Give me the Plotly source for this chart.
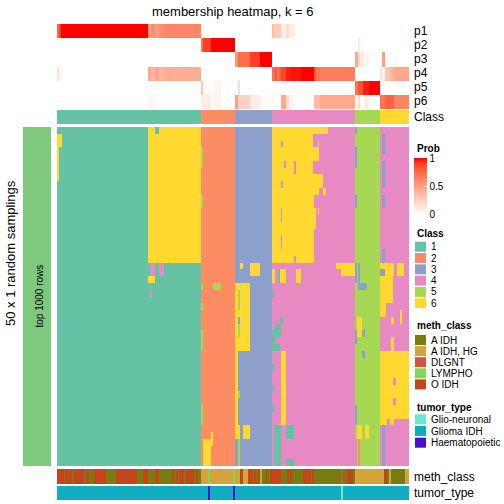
import numpy as np
import plotly.graph_objects as go

# ---------------- data ----------------
N_SAMPLES = 352
N_SAMPLINGS = 50
prob_rows = ["p1", "p2", "p3", "p4", "p5", "p6"]
class_labels = ["1", "2", "3", "4", "5", "6"]
class_colors = ["#66C2A5", "#FC8D62", "#8DA0CB", "#E78AC3", "#A6D854", "#FFD92F"]
# consensus class segments: sample boundaries and class id
class_bounds = [0, 144, 178, 215, 298, 323, 352]
class_ids = [1, 2, 3, 4, 5, 6]

# membership probabilities per row: (start, end, prob)
p1_segs = [(0, 2, 0.75), (2, 4, 0.9), (4, 91, 1.0), (91, 94, 0.5), (94, 98, 0.58), (98, 102, 0.5),
           (102, 107, 0.58), (107, 144, 0.62), (215, 217, 0.35), (217, 224, 0.28), (224, 229, 0.08),
           (229, 232, 0.18), (232, 237, 0.1), (237, 239, 0.05)]
p2_segs = [(144, 146, 0.7), (146, 154, 0.9), (154, 178, 1.0), (301, 303, 0.12)]
p3_segs = [(178, 181, 0.55), (181, 193, 0.72), (193, 203, 0.9), (203, 215, 1.0), (298, 301, 0.45),
           (301, 303, 0.2), (303, 307, 0.1), (307, 312, 0.05), (325, 328, 0.5)]
p4_segs = [(0, 2, 0.15), (2, 5, 0.05), (91, 94, 0.45), (94, 98, 0.38), (98, 102, 0.45), (102, 107, 0.38),
           (107, 144, 0.42), (215, 218, 0.72), (218, 220, 0.82), (220, 222, 0.68), (222, 224, 0.78),
           (224, 229, 0.88), (229, 233, 0.95), (233, 244, 0.97), (244, 257, 1.0), (257, 259, 0.8),
           (259, 263, 0.7), (263, 298, 0.65), (323, 325, 0.15), (325, 328, 0.05), (328, 333, 0.3),
           (333, 337, 0.38), (337, 352, 0.45)]
p5_segs = [(144, 146, 0.3), (146, 154, 0.03), (156, 164, 0.05), (181, 183, 0.2), (298, 301, 0.7),
           (301, 306, 0.82), (306, 312, 0.95), (312, 323, 1.0)]
p6_segs = [(91, 98, 0.05), (144, 154, 0.1), (156, 164, 0.05), (178, 181, 0.5), (181, 193, 0.25),
           (193, 203, 0.1), (203, 215, 0.03), (215, 217, 0.05), (224, 229, 0.45), (229, 232, 0.2),
           (232, 237, 0.05), (257, 263, 0.35), (263, 298, 0.45), (298, 301, 0.05), (301, 303, 0.2),
           (307, 312, 0.1), (323, 328, 0.7), (328, 337, 0.78), (337, 352, 0.62)]

# class assignment in each random sampling that differs from consensus:
# (row_start, row_end, sample_start, sample_end, class)
main_overrides = [
    (1, 3, 0, 5, 6), (3, 8, 0, 2, 6),
    (0, 20, 91, 144, 6), (0, 1, 98, 102, 1),
    (20, 22, 93, 98, 4), (20, 22, 102, 107, 4), (22, 23, 91, 98, 6), (24, 25, 93, 95, 4),
    (3, 6, 144, 146, 5), (10, 12, 144, 146, 5), (23, 24, 144, 146, 5), (26, 27, 144, 146, 5),
    (30, 33, 144, 146, 5), (41, 44, 144, 146, 5),
    (23, 24, 156, 164, 5),
    (46, 50, 146, 154, 6), (45, 47, 154, 156, 6),
    (20, 21, 183, 186, 6), (20, 22, 193, 203, 6),
    (23, 33, 178, 193, 6), (24, 27, 181, 183, 5), (29, 31, 181, 183, 5), (28, 29, 181, 183, 3),
    (33, 44, 178, 181, 6), (39, 40, 181, 183, 5),
    (44, 46, 178, 183, 6), (44, 46, 186, 193, 6),
    (46, 50, 181, 183, 5),
    (0, 1, 215, 271, 6), (1, 3, 215, 256, 6), (3, 5, 215, 262, 6), (5, 7, 215, 256, 6), (7, 9, 215, 266, 6),
    (9, 10, 215, 262, 6), (10, 12, 215, 257, 6), (12, 15, 215, 259, 6), (15, 19, 215, 257, 6),
    (19, 20, 215, 237, 6), (19, 20, 239, 257, 6),
    (2, 3, 224, 226, 4), (5, 6, 227, 229, 4), (5, 7, 237, 239, 4), (8, 9, 224, 226, 4),
    (12, 14, 224, 225, 4), (16, 18, 224, 225, 4),
    (2, 4, 261, 262, 6), (12, 13, 261, 262, 6), (9, 10, 266, 269, 6),
    (20, 21, 279, 298, 6), (21, 22, 284, 298, 6),
    (21, 23, 215, 218, 6), (21, 23, 221, 223, 1), (21, 23, 223, 229, 6), (21, 23, 239, 244, 6),
    (24, 25, 215, 217, 1),
    (28, 29, 223, 226, 1), (29, 31, 218, 224, 1), (30, 33, 215, 218, 1), (32, 33, 215, 223, 1),
    (35, 36, 215, 217, 1), (38, 39, 215, 217, 1), (41, 42, 215, 217, 1),
    (33, 44, 224, 229, 6),
    (44, 50, 217, 224, 1), (44, 46, 229, 237, 1), (49, 50, 229, 237, 1),
    (0, 1, 298, 300, 3), (3, 6, 298, 300, 3), (10, 12, 298, 300, 3), (20, 23, 298, 300, 3),
    (30, 32, 298, 300, 3), (41, 44, 298, 300, 3),
    (20, 24, 301, 303, 3), (23, 24, 303, 310, 3),
    (28, 31, 300, 305, 6), (30, 31, 305, 308, 3), (33, 34, 305, 308, 3),
    (44, 46, 300, 305, 6), (44, 46, 308, 312, 6),
    (46, 50, 301, 303, 2), (46, 50, 298, 300, 4),
    (0, 33, 323, 352, 4),
    (1, 4, 325, 328, 3), (5, 9, 325, 328, 3), (10, 12, 325, 328, 3), (18, 20, 325, 328, 3),
    (20, 21, 323, 337, 6), (20, 22, 340, 347, 6), (21, 22, 323, 328, 3), (21, 22, 328, 337, 6),
    (22, 26, 323, 336, 6), (26, 28, 323, 329, 6), (27, 29, 343, 345, 6), (28, 29, 334, 337, 6),
    (31, 33, 334, 337, 6),
    (37, 38, 336, 339, 4), (40, 41, 336, 339, 4),
    (43, 50, 323, 352, 4), (43, 44, 323, 330, 6), (43, 44, 333, 337, 6), (44, 50, 325, 328, 3),
]

meth_labels = ["A IDH", "A IDH, HG", "DLGNT", "LYMPHO", "O IDH"]
meth_colors = ["#767C0E", "#D4A43A", "#CC5A36", "#84D65A", "#C4441C"]
meth_starts = [0, 7, 8, 15, 17, 27, 29, 32, 37, 49, 59, 80, 86, 91, 98, 102, 115, 117, 119, 121, 122,
               127, 129, 137, 139, 141, 144, 151, 153, 176, 178, 183, 186, 191, 196, 197, 199, 201, 203,
               205, 209, 210, 213, 224, 230, 232, 233, 235, 246, 254, 255, 257, 284, 286, 290, 296, 298,
               327, 330, 332, 334, 348]
meth_codes = [5, 1, 5, 1, 5, 1, 5, 1, 5, 1, 5, 1, 5, 1, 5, 1, 5, 1, 5, 1, 5,
              1, 5, 1, 5, 1, 2, 4, 2, 4, 2, 5, 2, 5, 1, 5, 1, 5, 2,
              1, 5, 1, 5, 1, 5, 1, 5, 1, 5, 1, 5, 1, 3, 1, 5, 1, 2,
              5, 1, 2, 1, 2]

tumor_labels = ["Glio-neuronal", "Glioma IDH", "Haematopoietic"]
tumor_colors = ["#6CE5D2", "#10ACBF", "#4B10D6"]
tumor_starts = [0, 151, 153, 176, 178, 284, 286]
tumor_codes = [2, 3, 2, 3, 2, 1, 2]

# ---------------- build matrices ----------------
def seg_row(segs):
    r = np.zeros(N_SAMPLES)
    for a, b, v in segs:
        r[a:b] = v
    return r

prob_z = np.vstack([seg_row(s) for s in [p1_segs, p2_segs, p3_segs, p4_segs, p5_segs, p6_segs]])

consensus = np.zeros(N_SAMPLES, dtype=int)
for i, c in enumerate(class_ids):
    consensus[class_bounds[i]:class_bounds[i + 1]] = c

main_z = np.tile(consensus, (N_SAMPLINGS, 1))
for r0, r1, c0, c1, k in main_overrides:
    main_z[r0:r1, c0:c1] = k

def runs(starts, codes):
    r = np.zeros(N_SAMPLES, dtype=int)
    ends = starts[1:] + [N_SAMPLES]
    for a, b, c in zip(starts, ends, codes):
        r[a:b] = c
    return r

meth_z = runs(meth_starts, meth_codes)
tumor_z = runs(tumor_starts, tumor_codes)

# ---------------- colour helpers ----------------
def lab_to_hex(L, a, b):
    fy = (L + 16) / 116
    fx = fy + a / 500
    fz = fy - b / 200
    def finv(t):
        return t ** 3 if t ** 3 > 0.008856 else (t - 16 / 116) / 7.787
    X, Y, Z = 0.95047 * finv(fx), finv(fy), 1.08883 * finv(fz)
    rgb = [3.2406 * X - 1.5372 * Y - 0.4986 * Z,
           -0.9689 * X + 1.8758 * Y + 0.0415 * Z,
           0.0557 * X - 0.2040 * Y + 1.0570 * Z]
    out = []
    for c in rgb:
        c = 12.92 * c if c <= 0.0031308 else 1.055 * c ** (1 / 2.4) - 0.055
        out.append(int(round(min(max(c, 0), 1) * 255)))
    return "#%02X%02X%02X" % tuple(out)

prob_scale = []
for i in range(11):
    t = i / 10
    prob_scale.append([t, lab_to_hex(100 + (53.24 - 100) * t, 80.09 * t, 67.20 * t)])

def discrete(colors):
    n = len(colors)
    cs = []
    for i, c in enumerate(colors):
        cs.append([i / n, c])
        cs.append([(i + 1) / n, c])
    return cs

# ---------------- figure ----------------
W = 504
def PY(py):
    return 1 - py / W
def PX(px):
    return px / W

FONT = "Liberation Sans, Arial, sans-serif"
xs = np.arange(N_SAMPLES)
fig = go.Figure()

fig.add_trace(go.Heatmap(z=prob_z, x=xs, y=np.arange(6), colorscale=prob_scale, zmin=0, zmax=1,
                         xaxis="x", yaxis="y", hoverinfo="skip",
                         colorbar=dict(x=PX(414), xanchor="left", xpad=0, y=PY(158), yanchor="top", ypad=0,
                                       len=56 / W, lenmode="fraction", thickness=13, outlinewidth=0,
                                       tickvals=[0, 0.5, 1], ticktext=["0", "0.5", "1"], ticks="inside",
                                       ticklen=3, tickcolor="white",
                                       tickfont=dict(size=10, family=FONT, color="black"))))
fig.add_trace(go.Heatmap(z=[consensus], x=xs, y=[0], colorscale=discrete(class_colors), zmin=0.5,
                         zmax=6.5, showscale=False, xaxis="x", yaxis="y2", hoverinfo="skip"))
fig.add_trace(go.Heatmap(z=main_z, x=xs, y=np.arange(N_SAMPLINGS), colorscale=discrete(class_colors),
                         zmin=0.5, zmax=6.5, showscale=False, xaxis="x", yaxis="y3", hoverinfo="skip"))
fig.add_trace(go.Heatmap(z=[meth_z], x=xs, y=[0], colorscale=discrete(meth_colors), zmin=0.5, zmax=5.5,
                         showscale=False, xaxis="x", yaxis="y4", hoverinfo="skip"))
fig.add_trace(go.Heatmap(z=[tumor_z], x=xs, y=[0], colorscale=discrete(tumor_colors), zmin=0.5, zmax=3.5,
                         showscale=False, xaxis="x", yaxis="y5", hoverinfo="skip"))

hid = dict(visible=False, showgrid=False, zeroline=False)
fig.update_layout(
    width=W, height=W, margin=dict(l=0, r=0, t=0, b=0),
    paper_bgcolor="white", plot_bgcolor="white",
    xaxis=dict(domain=[PX(57), PX(409)], range=[-0.5, N_SAMPLES - 0.5], anchor="y3", **hid),
    yaxis=dict(domain=[PY(109), PY(24)], range=[5.5, -0.5], anchor="x", **hid),
    yaxis2=dict(domain=[PY(124), PY(110)], range=[-0.5, 0.5], anchor="x", **hid),
    yaxis3=dict(domain=[PY(466), PY(127)], range=[N_SAMPLINGS - 0.5, -0.5], anchor="x", **hid),
    yaxis4=dict(domain=[PY(484), PY(469)], range=[-0.5, 0.5], anchor="x", **hid),
    yaxis5=dict(domain=[PY(500), PY(486)], range=[-0.5, 0.5], anchor="x", **hid),
    showlegend=False,
)

shapes = []
ann = []
def text(x, y, s, size=12, bold=False, anchor="left", angle=0):
    ann.append(dict(x=PX(x), y=PY(y), xref="paper", yref="paper", text=("<b>%s</b>" % s) if bold else s,
                    showarrow=False, xanchor=anchor, yanchor="middle", textangle=angle,
                    font=dict(size=size, family=FONT, color="black")))

text(233, 11, "membership heatmap, k = 6", size=13, anchor="center")
row_centers = [31, 45, 59, 73, 87, 101.5]
for lab, yc in zip(prob_rows, row_centers):
    text(412, yc, lab, size=12)
text(412, 117, "Class", size=12)
text(412, 477, "meth_class", size=12)
text(412, 493, "tumor_type", size=12)

# left sampling bar
shapes.append(dict(type="rect", xref="paper", yref="paper", x0=PX(23), x1=PX(51), y0=PY(466), y1=PY(127),
                   fillcolor="#7FC97F", line=dict(width=0)))
text(10, 253, "50 x 1 random samplings", size=13, anchor="center", angle=-90)
text(38.5, 296, "top 1000 rows", size=10, anchor="center", angle=-90)

# legends
def legend_block(title, title_y, first_top, step, labels, colors):
    text(415, title_y, title, size=10, bold=True)
    for i, (lab, col) in enumerate(zip(labels, colors)):
        top = first_top + i * step
        shapes.append(dict(type="rect", xref="paper", yref="paper", x0=PX(415), x1=PX(426),
                           y0=PY(top + 10), y1=PY(top), fillcolor=col, line=dict(width=0)))
        text(429, top + 5, lab, size=10)

text(415, 148, "Prob", size=10, bold=True)
legend_block("Class", 233, 241.7, 11.3, class_labels, class_colors)
legend_block("meth_class", 325, 335, 11.1, meth_labels, meth_colors)
legend_block("tumor_type", 407, 414.3, 11.7, tumor_labels, tumor_colors)

fig.update_layout(shapes=shapes, annotations=ann)
fig.write_html("out.html", config={"displayModeBar": False},
               post_script="document.body.style.margin='0';document.body.style.overflow='hidden';")
